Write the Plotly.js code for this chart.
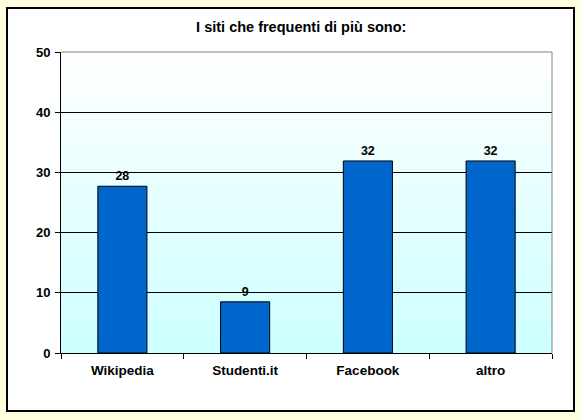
<!DOCTYPE html>
<html>
<head>
<meta charset="utf-8">
<script src="https://cdn.plot.ly/plotly-3.0.1.min.js"></script>
<style>
html,body{margin:0;padding:0;background:#FFFFE0;width:581px;height:420px;overflow:hidden;}
#frame{position:absolute;left:6px;top:7px;width:565px;height:401px;border:2px solid #000;background:#fff;}
#chart{width:565px;height:401px;}
</style>
</head>
<body>
<div id="frame"><div id="chart"></div></div>
<script>
const categories = ["Wikipedia", "Studenti.it", "Facebook", "altro"];
const values = [27.7, 8.5, 31.9, 31.9];
const titleText = "I siti che frequenti di più sono:";
const yTicks = [0, 10, 20, 30, 40, 50];

const font = {family: "Arial, 'Liberation Sans', sans-serif", color: "#000"};

const grad = '<svg xmlns="http://www.w3.org/2000/svg" width="10" height="100" preserveAspectRatio="none">' +
  '<defs><linearGradient id="g" x1="0" y1="0" x2="0" y2="1">' +
  '<stop offset="0" stop-color="#FFFFFF"/><stop offset="1" stop-color="#CCFFFF"/>' +
  '</linearGradient></defs><rect width="10" height="100" fill="url(#g)"/></svg>';

const trace = {
  type: "bar",
  x: categories,
  y: values,
  marker: {color: "#0066CC", line: {color: "#000", width: 1}},
  text: values.map(v => String(Math.round(v))),
  textposition: "outside",
  textfont: Object.assign({}, font, {size: 12.5, weight: "bold"}),
  cliponaxis: false,
  hoverinfo: "none"
};

const layout = {
  width: 565, height: 401,
  margin: {l: 53, r: 21, t: 43, b: 57},
  paper_bgcolor: "#FFFFFF",
  plot_bgcolor: "rgba(0,0,0,0)",
  bargap: 0.6,
  showlegend: false,
  font: font,
  title: {
    text: titleText,
    font: Object.assign({}, font, {size: 14.5, weight: "bold"}),
    xref: "container", x: 0.519, xanchor: "center",
    yref: "container", y: 0.955, yanchor: "middle"
  },
  xaxis: {
    type: "category",
    showline: true, linecolor: "#000", linewidth: 1,
    ticks: "outside", tickson: "boundaries", ticklen: 5, tickcolor: "#000",
    ticklabelstandoff: 5,
    showgrid: false,
    tickfont: Object.assign({}, font, {size: 13.5, weight: "bold"}),
    fixedrange: true
  },
  yaxis: {
    range: [0, 50],
    tickvals: yTicks,
    showline: true, linecolor: "#000", linewidth: 1,
    ticks: "outside", ticklen: 5, tickcolor: "#000",
    ticklabelstandoff: 2,
    showgrid: true, gridcolor: "#000", gridwidth: 1,
    zeroline: false,
    tickfont: Object.assign({}, font, {size: 13, weight: "bold"}),
    fixedrange: true
  },
  images: [{
    source: "data:image/svg+xml;charset=utf-8," + encodeURIComponent(grad),
    xref: "paper", yref: "paper", x: 0, y: 1, sizex: 1, sizey: 1,
    sizing: "stretch", xanchor: "left", yanchor: "top", layer: "below"
  }],
  shapes: [
    {type: "line", xref: "paper", yref: "paper", x0: 0, x1: 1, y0: 1, y1: 1, line: {color: "#808080", width: 1}, layer: "above"},
    {type: "line", xref: "paper", yref: "paper", x0: 1, x1: 1, y0: 0, y1: 1, line: {color: "#808080", width: 1}, layer: "above"}
  ]
};

Plotly.newPlot("chart", [trace], layout, {staticPlot: true, displayModeBar: false});
</script>
</body>
</html>
